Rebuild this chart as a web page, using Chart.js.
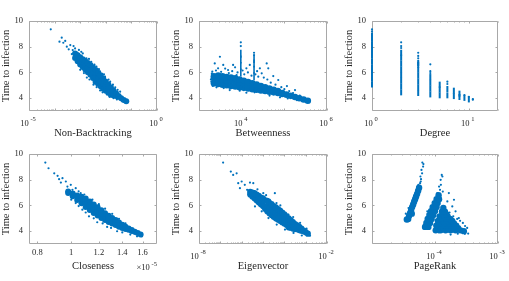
<!DOCTYPE html>
<html><head><meta charset="utf-8">
<script src="https://cdn.jsdelivr.net/npm/chart.js@4.4.1/dist/chart.umd.min.js"></script>
<style>
html,body{margin:0;padding:0;background:#fff}
body{width:509px;height:281px;position:relative;overflow:hidden}
canvas{position:absolute}
</style></head><body>
<canvas id="c0"></canvas><canvas id="c1"></canvas><canvas id="c2"></canvas>
<canvas id="c3"></canvas><canvas id="c4"></canvas><canvas id="c5"></canvas>
<script>
// ---------- shared y axis ----------
const yTicks = [4, 6, 8, 10];
const yTickLabels = ['4', '6', '8', '10'];
const yTitle = 'Time to infection';
const yRange = [3, 10];

// ---------- Non-Backtracking ----------
const nbRange = [1e-5, 1];
const nbTicks = [1e-5, 1];
const nbTickExps = ['-5', '0'];
const nbDense = [
  [6.31e-4,7.12],[6.31e-4,7.48],
  [7.943e-4,6.87],[7.943e-4,7.33],
  [1e-3,6.62],[1e-3,7.0],[1e-3,7.18],
  [1.259e-3,6.42],[1.259e-3,6.8],[1.259e-3,7.03],
  [1.585e-3,6.22],[1.585e-3,6.55],[1.585e-3,6.88],
  [1.995e-3,6.02],[1.995e-3,6.38],[1.995e-3,6.73],
  [2.512e-3,5.82],[2.512e-3,6.2],[2.512e-3,6.58],
  [3.162e-3,5.57],[3.162e-3,5.97],[3.162e-3,6.38],
  [3.981e-3,5.27],[3.981e-3,5.65],[3.981e-3,6.0],[3.981e-3,6.18],
  [5.012e-3,5.12],[5.012e-3,5.5],[5.012e-3,5.98],
  [6.31e-3,4.92],[6.31e-3,5.3],[6.31e-3,5.78],
  [7.943e-3,4.74],[7.943e-3,5.12],[7.943e-3,5.53],
  [0.01,4.57],[0.01,4.95],[0.01,5.28],
  [0.01259,4.42],[0.01259,4.75],[0.01259,5.06],
  [0.01585,4.27],[0.01585,4.6],[0.01585,4.83],
  [0.01995,4.22],[0.01995,4.6],
  [0.02512,4.17],[0.02512,4.38],
  [0.03162,4.1],[0.03162,4.16],
  [0.03981,4.0],[0.05012,3.86],[0.0631,3.75]
];
const nbSparse = [
  [7.08e-5,9.35],[1.55e-4,8.39],[1.9e-4,8.7],[2.19e-4,8.31],[2.6e-4,8.45],[3.0e-4,8.0],
  [4.1e-4,8.13],[3.56e-4,7.8],[5.1e-4,7.74],[5.5e-4,8.05],[6.3e-4,7.87],[7.8e-4,7.53],
  [4.7e-4,7.43],[8.9e-4,7.75],[1.1e-3,7.6],[1.26e-3,7.48],[1.74e-3,7.1],[2.7e-3,6.83],
  [4.3e-3,6.45],[6.0e-3,6.06],[9.3e-3,5.67],[0.0148,5.28],[0.0234,4.84],[0.0363,4.5],
  [1.0e-3,6.2],[1.82e-3,5.6],[3.3e-3,5.05],[6.0e-3,4.6],[0.011,4.3],[0.02,4.0],
  [0.0417,3.8],[0.0603,3.76],[0.0661,3.72],[0.052,3.85],[0.0575,3.74],
  [2.2e-3,7.05],[3.6e-3,6.6],[5.4e-3,6.25],[8.5e-3,5.85],[0.0128,5.45],[0.019,5.05],[0.029,4.65],
  [1.4e-3,5.95],[2.3e-3,5.45],[4.4e-3,4.85],[7.5e-3,4.45],[0.014,4.1],[0.027,3.9]
];

// ---------- Betweenness ----------
const btRange = [1e3, 1e6];
const btTicks = [1e4, 1e6];
const btTickExps = ['4', '6'];
const btDense = [
  [2239,5.15],[2239,5.55],[2239,5.7],
  [2818,5.1],[2818,5.5],[2818,5.75],
  [3548,5.05],[3548,5.45],[3548,5.7],
  [4467,5.0],[4467,5.4],[4467,5.65],
  [5623,4.95],[5623,5.35],[5623,5.6],
  [7079,4.9],[7079,5.3],[7079,5.55],
  [8913,4.85],[8913,5.2],[8913,5.45],
  [11220,4.8],[11220,5.1],[11220,5.35],
  [14125,4.75],[14125,5.0],[14125,5.25],
  [17783,4.7],[17783,4.95],[17783,5.15],
  [22387,4.65],[22387,4.9],[22387,5.05],
  [28184,4.6],[28184,4.95],
  [35481,4.55],[35481,4.85],
  [44668,4.5],[44668,4.75],
  [56234,4.45],[56234,4.65],
  [70795,4.4],[70795,4.55],
  [89125,4.33],[89125,4.4],
  [112202,4.27],[141254,4.18],[177828,4.09],[223872,3.99],[281838,3.89],[354813,3.8]
];
const btSpikes = [
  [9550,6.0],[9550,6.5],[9550,7.0],[9550,7.45],
  [19500,5.7],[19500,6.2],[19500,6.7],[19500,7.05]
];
const btSparse = [
  [3090,7.22],[2340,6.7],[3700,6.58],[2800,6.32],[4800,6.19],[6300,6.58],[12900,6.32],
  [15500,6.58],[26700,6.32],[38600,6.7],[42000,6.32],[29500,5.93],[55000,5.72],[72000,5.41],
  [115000,4.94],[178000,4.63],[2050,6.06],[1950,5.28],[7600,5.8],[24500,5.67],[2570,4.84],
  [5250,4.63],[12900,4.42],[79000,4.06],[195000,3.85],[309000,3.73],[380000,3.68],
  [9550,8.34],[9550,8.05],[19500,7.53],[19500,7.35],
  [2000,5.9],[2500,6.15],[3300,6.05],[4100,6.3],[5000,5.95],[6000,6.1],[7000,6.4],[8000,6.0],
  [10500,6.15],[11500,5.85],[14000,6.0],[17000,5.75],[21000,5.85],[23000,6.1],[33000,5.6],
  [40000,5.45],[48000,5.2],[62000,5.05],[85000,4.85],[100000,4.7],[130000,4.55],[160000,4.4],
  [230000,4.2],[2100,4.95],[1900,5.45],[3800,4.78],[9000,4.58],[20000,4.45],[45000,4.2],
  [120000,3.98],[260000,3.78]
];

// ---------- Degree ----------
const dgRange = [1, 20];
const dgTicks = [1, 10];
const dgTickExps = ['0', '1'];
const dgColumns = [
  [1,5.07],[1,5.5],[1,5.95],[1,6.4],[1,6.85],[1,7.3],[1,7.75],[1,8.2],[1,8.62],[1,8.87],
  [2,4.45],[2,4.9],[2,5.35],[2,5.8],[2,6.25],[2,6.7],[2,7.15],[2,7.53],
  [3,4.4],[3,4.85],[3,5.3],[3,5.75],[3,6.2],[3,6.6],[3,6.74],
  [4,4.29],[4,4.74],[4,5.19],[4,5.64],
  [5,4.22],[5,4.67],[5,5.05],
  [6,4.22],[6,4.71],
  [7,4.16],[7,4.58],
  [8,4.09],[8,4.35],
  [9,4.02],
  [10,3.9]
];
const dgSparse = [
  [1,9.35],[1,9.2],[2,8.34],[2,8.05],[2,7.9],[3,7.53],[3,7.28],[3,7.1],[4,6.63],[4,6.1],
  [4,5.95],[6,5.28],[6,5.1],[11,3.93],[11,3.88],[10,4.11],[9,4.24]
];

// ---------- Closeness (values in units of 1e-5) ----------
const clRange = [0.757, 1.76];
const clTicks = [0.8, 1, 1.2, 1.4, 1.6];
const clTickLabels = ['0.8', '1', '1.2', '1.4', '1.6'];
const clMultiplier = ['\u00D710', '-5'];
const clDense = [
  [0.98,6.97],[0.98,7.08],
  [1.01,6.72],[1.01,6.93],
  [1.04,6.42],[1.04,6.78],
  [1.07,6.17],[1.07,6.5],[1.07,6.68],
  [1.10,5.87],[1.10,6.2],[1.10,6.53],
  [1.13,5.64],[1.13,5.97],[1.13,6.3],
  [1.16,5.42],[1.16,5.75],[1.16,6.08],
  [1.19,5.22],[1.19,5.55],[1.19,5.86],
  [1.22,5.02],[1.22,5.35],[1.22,5.63],
  [1.25,4.87],[1.25,5.15],[1.25,5.4],
  [1.28,4.72],[1.28,4.97],[1.28,5.2],
  [1.31,4.59],[1.31,4.81],[1.31,5.03],
  [1.34,4.47],[1.34,4.67],[1.34,4.86],
  [1.37,4.35],[1.37,4.68],
  [1.40,4.24],[1.40,4.5],
  [1.43,4.17],[1.43,4.34],
  [1.46,4.1],[1.46,4.2],
  [1.49,4.02],[1.49,4.08],
  [1.52,3.96],[1.55,3.85],[1.58,3.74]
];
const clSparse = [
  [0.843,9.33],[0.861,8.89],[0.894,8.5],[0.914,8.3],[0.923,8.04],[0.944,8.12],[0.934,7.78],
  [0.965,7.86],[0.975,7.47],[0.997,7.6],[1.008,7.21],[1.03,7.34],[1.064,6.95],[1.1,6.57],
  [1.136,6.18],[1.174,5.92],[1.213,5.54],[1.267,5.2],[1.323,4.84],[1.382,4.48],[1.46,4.12],
  [1.03,6.18],[1.076,5.67],[1.124,5.15],[1.187,4.69],[1.267,4.33],[1.353,3.99],[1.476,3.73],
  [1.543,3.6],[1.593,3.6],[1.58,3.68],[1.52,3.8],
  [1.05,7.1],[1.09,6.85],[1.15,6.45],[1.2,6.1],[1.25,5.75],[1.31,5.35],[1.37,4.95],[1.43,4.6],
  [1.0,6.45],[1.05,5.95],[1.1,5.45],[1.16,5.0],[1.23,4.6],[1.3,4.25],[1.4,3.9]
];

// ---------- Eigenvector ----------
const evRange = [1e-8, 1e-2];
const evTicks = [1e-8, 1e-2];
const evTickExps = ['-8', '-2'];
const evDense = [
  [2.512e-6,6.85],[2.512e-6,7.05],
  [3.162e-6,6.7],[3.162e-6,7.0],
  [3.981e-6,6.55],[3.981e-6,6.95],
  [5.012e-6,6.4],[5.012e-6,6.85],
  [6.31e-6,6.25],[6.31e-6,6.6],[6.31e-6,6.75],
  [7.943e-6,6.1],[7.943e-6,6.6],
  [1e-5,5.95],[1e-5,6.3],[1e-5,6.55],
  [1.259e-5,5.75],[1.259e-5,6.4],
  [1.585e-5,5.55],[1.585e-5,5.95],[1.585e-5,6.35],
  [1.995e-5,5.4],[1.995e-5,5.8],[1.995e-5,6.2],
  [2.512e-5,5.25],[2.512e-5,5.65],[2.512e-5,6.1],
  [3.162e-5,5.12],[3.162e-5,5.55],[3.162e-5,5.95],
  [3.981e-5,5.0],[3.981e-5,5.4],[3.981e-5,5.85],
  [5.012e-5,4.9],[5.012e-5,5.3],[5.012e-5,5.72],
  [6.31e-5,4.8],[6.31e-5,5.2],[6.31e-5,5.6],
  [7.943e-5,4.7],[7.943e-5,5.05],[7.943e-5,5.45],
  [1e-4,4.6],[1e-4,4.95],[1e-4,5.3],
  [1.259e-4,4.5],[1.259e-4,4.85],[1.259e-4,5.15],
  [1.585e-4,4.3],[1.585e-4,4.65],[1.585e-4,5.0],
  [1.995e-4,4.27],[1.995e-4,4.6],[1.995e-4,4.85],
  [2.512e-4,4.2],[2.512e-4,4.5],[2.512e-4,4.7],
  [3.162e-4,4.17],[3.162e-4,4.55],
  [3.981e-4,4.15],[3.981e-4,4.45],
  [5.012e-4,4.08],[5.012e-4,4.33],
  [6.31e-4,4.03],[6.31e-4,4.2],
  [7.943e-4,4.0],[7.943e-4,4.05],
  [1e-3,3.92],[1.259e-3,3.8]
];
const evSparse = [
  [1.35e-7,9.33],[3.1e-7,8.63],[4.0e-7,8.37],[5.8e-7,8.5],[6.9e-7,7.73],[1e-6,7.86],[1.4e-6,7.6],
  [2.45e-6,7.78],[3.5e-6,7.73],[1.8e-6,7.21],[8.3e-7,7.34],[1.03e-5,6.95],[2.1e-5,6.44],
  [3.6e-5,6.95],[4.3e-5,6.18],[9.1e-5,5.54],[1.55e-4,5.28],[2.2e-4,4.9],[4.6e-4,4.51],
  [7.9e-4,4.17],[4.2e-6,5.92],[8.7e-6,5.54],[1.8e-5,5.02],[4.4e-5,4.51],[1.07e-4,4.12],
  [2.7e-4,3.86],[6.6e-4,3.66],[1.41e-3,3.72],[1.6e-3,3.65],[1.2e-3,3.8],
  [5.5e-6,7.25],[1.4e-5,6.8],[6.5e-5,6.0],[2.6e-4,5.1],[5.5e-4,4.65],[1.1e-3,4.2]
];

// ---------- PageRank ----------
const prRange = [1e-5, 1e-3];
const prTicks = [1e-4, 1e-3];
const prTickExps = ['-4', '-3'];
const prDense = [
  // left streak
  [3.75e-5,4.95],[3.88e-5,5.2],[4.03e-5,5.41],[4.18e-5,5.64],[4.33e-5,5.87],[4.5e-5,6.08],
  [4.66e-5,6.29],[4.83e-5,6.49],[5.01e-5,6.7],[5.2e-5,6.9],[5.4e-5,7.14],[5.59e-5,7.37],
  [3.57e-5,4.9],[4.28e-5,5.36],
  // middle cluster
  [6.95e-5,4.33],[7.85e-5,4.33],
  [7.3e-5,4.64],[8.34e-5,4.64],
  [7.65e-5,4.95],[8.85e-5,4.95],
  [8.14e-5,5.26],[9.41e-5,5.26],
  [8.65e-5,5.56],[1.0e-4,5.56],
  [9.18e-5,5.87],[1.06e-4,5.87],
  [9.89e-5,6.18],[1.1e-4,6.18],
  [1.06e-4,6.49],[1.16e-4,6.49],
  [1.14e-4,6.8],
  // right cluster
  [1.026e-4,4.06],[1.228e-4,4.06],[1.474e-4,4.06],[1.766e-4,4.06],[2.12e-4,4.06],[2.54e-4,4.06],[2.87e-4,4.0],
  [1.12e-4,4.25],[1.35e-4,4.25],[1.62e-4,4.25],[1.95e-4,4.25],[2.33e-4,4.22],
  [1.05e-4,4.43],[1.259e-4,4.43],[1.51e-4,4.43],[1.81e-4,4.43],[2.17e-4,4.43],
  [1.19e-4,4.62],[1.42e-4,4.62],[1.7e-4,4.62],[2.0e-4,4.6],
  [1.114e-4,4.79],[1.337e-4,4.79],[1.603e-4,4.79],[1.88e-4,4.79],
  [1.25e-4,4.97],[1.5e-4,4.97],[1.74e-4,4.95],
  [1.186e-4,5.15],[1.404e-4,5.15],[1.585e-4,5.15],
  [1.35e-4,5.33],[1.52e-4,5.3],
  [1.29e-4,5.51],[1.439e-4,5.51],
  [1.355e-4,5.8]
];
const prSparse = [
  [5.8e-5,7.73],[6.0e-5,8.04],[5.87e-5,8.25],[6.24e-5,8.5],[6.1e-5,8.76],[6.47e-5,9.02],
  [6.3e-5,9.33],[6.55e-5,9.22],[5.93e-5,7.86],[5.45e-5,7.6],[3.44e-5,5.36],[3.8e-5,5.8],[4.66e-5,6.7],
  [1.2e-4,7.21],[1.24e-4,7.6],[1.23e-4,7.99],[1.31e-4,8.25],[1.28e-4,8.37],[1.16e-4,7.47],
  [1.33e-4,7.08],[1.09e-4,6.96],[6.7e-5,4.5],[7.55e-5,5.54],
  [1.66e-4,6.96],[1.57e-4,6.31],[1.88e-4,5.92],[2.12e-4,5.54],[2.39e-4,5.02],[2.77e-4,4.64],
  [3.24e-4,4.25],[3.36e-4,3.81],[2.98e-4,3.79],[1.77e-4,3.73],[2.0e-4,6.44],[1.15e-4,3.9],
  [2.5e-4,4.8],[3.0e-4,4.4],[2.3e-4,3.8],[1.7e-4,5.45],[1.95e-4,5.15],[2.25e-4,4.95]
];

// ---------- rendering ----------
const BLUE = '#0072BD';
const TXT = '#262626';
const FONT = '"Liberation Serif","Times New Roman",serif';

const framePlugin = {
  id: 'frame',
  beforeDatasetsDraw(chart, args, opts) {
    const {ctx, chartArea: a, scales: {x, y}} = chart;
    ctx.save();
    ctx.strokeStyle = '#a8a8a8';
    ctx.lineWidth = 1;
    const l = Math.round(a.left) + 0.5, r = Math.round(a.right) - 0.5;
    const t = Math.round(a.top) + 0.5, b = Math.round(a.bottom) - 0.5;
    ctx.beginPath();
    ctx.rect(l, t, r - l, b - t);
    y.ticks.forEach(tk => {
      const py = Math.round(y.getPixelForValue(tk.value)) + 0.5;
      ctx.moveTo(l, py); ctx.lineTo(l + 2, py); ctx.moveTo(r, py); ctx.lineTo(r - 2, py);
    });
    const xt = [];
    if (opts.minor) {
      const d0 = Math.floor(Math.log10(x.min)), d1 = Math.ceil(Math.log10(x.max));
      for (let d = d0; d <= d1; d++) for (let m = 1; m < 10; m++) {
        const v = m * Math.pow(10, d);
        if (v >= x.min * 0.999 && v <= x.max * 1.001) xt.push([v, m === 1 ? 2 : 1]);
      }
    } else x.ticks.forEach(tk => xt.push([tk.value, 2]));
    xt.forEach(([v, len]) => {
      const px = Math.round(x.getPixelForValue(v)) + 0.5;
      ctx.moveTo(px, b); ctx.lineTo(px, b - len); ctx.moveTo(px, t); ctx.lineTo(px, t + len);
    });
    ctx.stroke();
    ctx.restore();
  },
  afterDraw(chart, args, opts) {
    const {ctx, chartArea: a, scales: {x}} = chart;
    ctx.save();
    ctx.fillStyle = TXT;
    ctx.textBaseline = 'alphabetic'; ctx.textAlign = 'left';
    const powerLabel = (base, exp, cx, by, right) => {
      ctx.font = '8.5px ' + FONT; const wb = ctx.measureText(base).width;
      ctx.font = '6.5px ' + FONT; const we = ctx.measureText(exp).width;
      const gap = 1.8, total = wb + gap + we;
      const x0 = right ? cx - total : cx - total / 2 - 1;
      ctx.font = '8.5px ' + FONT; ctx.fillText(base, x0, by);
      ctx.font = '6.5px ' + FONT; ctx.fillText(exp, x0 + wb + gap, by - 4.5);
    };
    if (opts.exps) {
      x.ticks.forEach((tk, i) => powerLabel('10', opts.exps[i], x.getPixelForValue(tk.value), a.bottom + 14.5, false));
    }
    if (opts.note) powerLabel(opts.note[0], opts.note[1], a.right, a.bottom + 26, true);
    ctx.restore();
  }
};

const pts = arr => arr.map(([x, y]) => ({x, y}));
function dots(arr, r) {
  return {data: pts(arr), pointRadius: r, pointHoverRadius: r, pointBackgroundColor: BLUE,
          pointBorderColor: BLUE, pointBorderWidth: 0, clip: false};
}
function bars(arr, r, w) {
  return {data: pts(arr), pointStyle: 'line', pointRotation: 90, pointRadius: r, pointHoverRadius: r,
          pointBackgroundColor: BLUE, pointBorderColor: BLUE, pointBorderWidth: w, clip: false};
}

function makeChart(idx, pos, xo, datasets, frameOpts) {
  const cv = document.getElementById('c' + idx);
  const w = pos.W + 40, h = pos.H + 38;
  cv.width = w; cv.height = h;
  cv.style.left = (pos.L - 30) + 'px'; cv.style.top = (pos.T - 8) + 'px';
  cv.style.width = w + 'px'; cv.style.height = h + 'px';
  const custom = !!frameOpts.exps;
  new Chart(cv, {
    type: 'scatter',
    data: {datasets},
    options: {
      responsive: false, animation: false, devicePixelRatio: 1, events: [],
      layout: {padding: {left: 0, top: 8, right: 10, bottom: 0}},
      plugins: {legend: {display: false}, tooltip: {enabled: false}, frame: frameOpts},
      scales: {
        x: {
          type: 'logarithmic', min: xo.range[0], max: xo.range[1],
          grid: {display: false, drawTicks: false}, border: {display: false},
          afterBuildTicks: s => { s.ticks = xo.ticks.map(v => ({value: v})); },
          afterFit: s => { s.height = 30; s.paddingLeft = 0; s.paddingRight = 0; },
          ticks: {display: !custom, autoSkip: false, maxRotation: 0, minRotation: 0, padding: 4, color: TXT,
                  font: {family: FONT, size: 8.5}, callback: (v, i) => (xo.labels ? xo.labels[i] : '')},
          title: {display: true, text: xo.title, color: TXT, font: {family: FONT, size: 10.5},
                  padding: {top: 0, bottom: 1.2}}
        },
        y: {
          type: 'linear', min: yRange[0], max: yRange[1],
          grid: {display: false, drawTicks: false}, border: {display: false},
          afterBuildTicks: s => { s.ticks = yTicks.map(v => ({value: v})); },
          afterFit: s => { s.width = 30; s.paddingTop = 0; s.paddingBottom = 0; },
          ticks: {padding: 6, color: TXT, font: {family: FONT, size: 8.5}, callback: (v, i) => yTickLabels[i]},
          title: {display: true, text: yTitle, color: TXT, font: {family: FONT, size: 10.5},
                  padding: {top: 0.7, bottom: 0}}
        }
      }
    },
    plugins: [framePlugin]
  });
}

const TOP = 21, BOT = 154, H = 90;
makeChart(0, {L: 29, T: TOP, W: 128, H},
  {range: nbRange, ticks: nbTicks, title: 'Non-Backtracking'},
  [dots(nbDense, 3), dots(nbSparse, 1.1)], {minor: true, exps: nbTickExps});
makeChart(1, {L: 199, T: TOP, W: 128, H},
  {range: btRange, ticks: btTicks, title: 'Betweenness'},
  [dots(btDense, 3.3), bars(btSpikes, 4, 1.6), dots(btSparse, 1.1)], {minor: true, exps: btTickExps});
makeChart(2, {L: 372, T: TOP, W: 126, H},
  {range: dgRange, ticks: dgTicks, title: 'Degree'},
  [bars(dgColumns, 3, 2), dots(dgSparse, 1.1)], {minor: true, exps: dgTickExps});
makeChart(3, {L: 29, T: BOT, W: 128, H},
  {range: clRange, ticks: clTicks, labels: clTickLabels, title: 'Closeness'},
  [dots(clDense, 3), dots(clSparse, 1.1)], {minor: false, note: clMultiplier});
makeChart(4, {L: 199, T: BOT, W: 128, H},
  {range: evRange, ticks: evTicks, title: 'Eigenvector'},
  [dots(evDense, 3.1), dots(evSparse, 1.1)], {minor: true, exps: evTickExps});
makeChart(5, {L: 372, T: BOT, W: 126, H},
  {range: prRange, ticks: prTicks, title: 'PageRank'},
  [dots(prDense, 3.2), dots(prSparse, 1.1)], {minor: true, exps: prTickExps});
</script>
</body></html>
